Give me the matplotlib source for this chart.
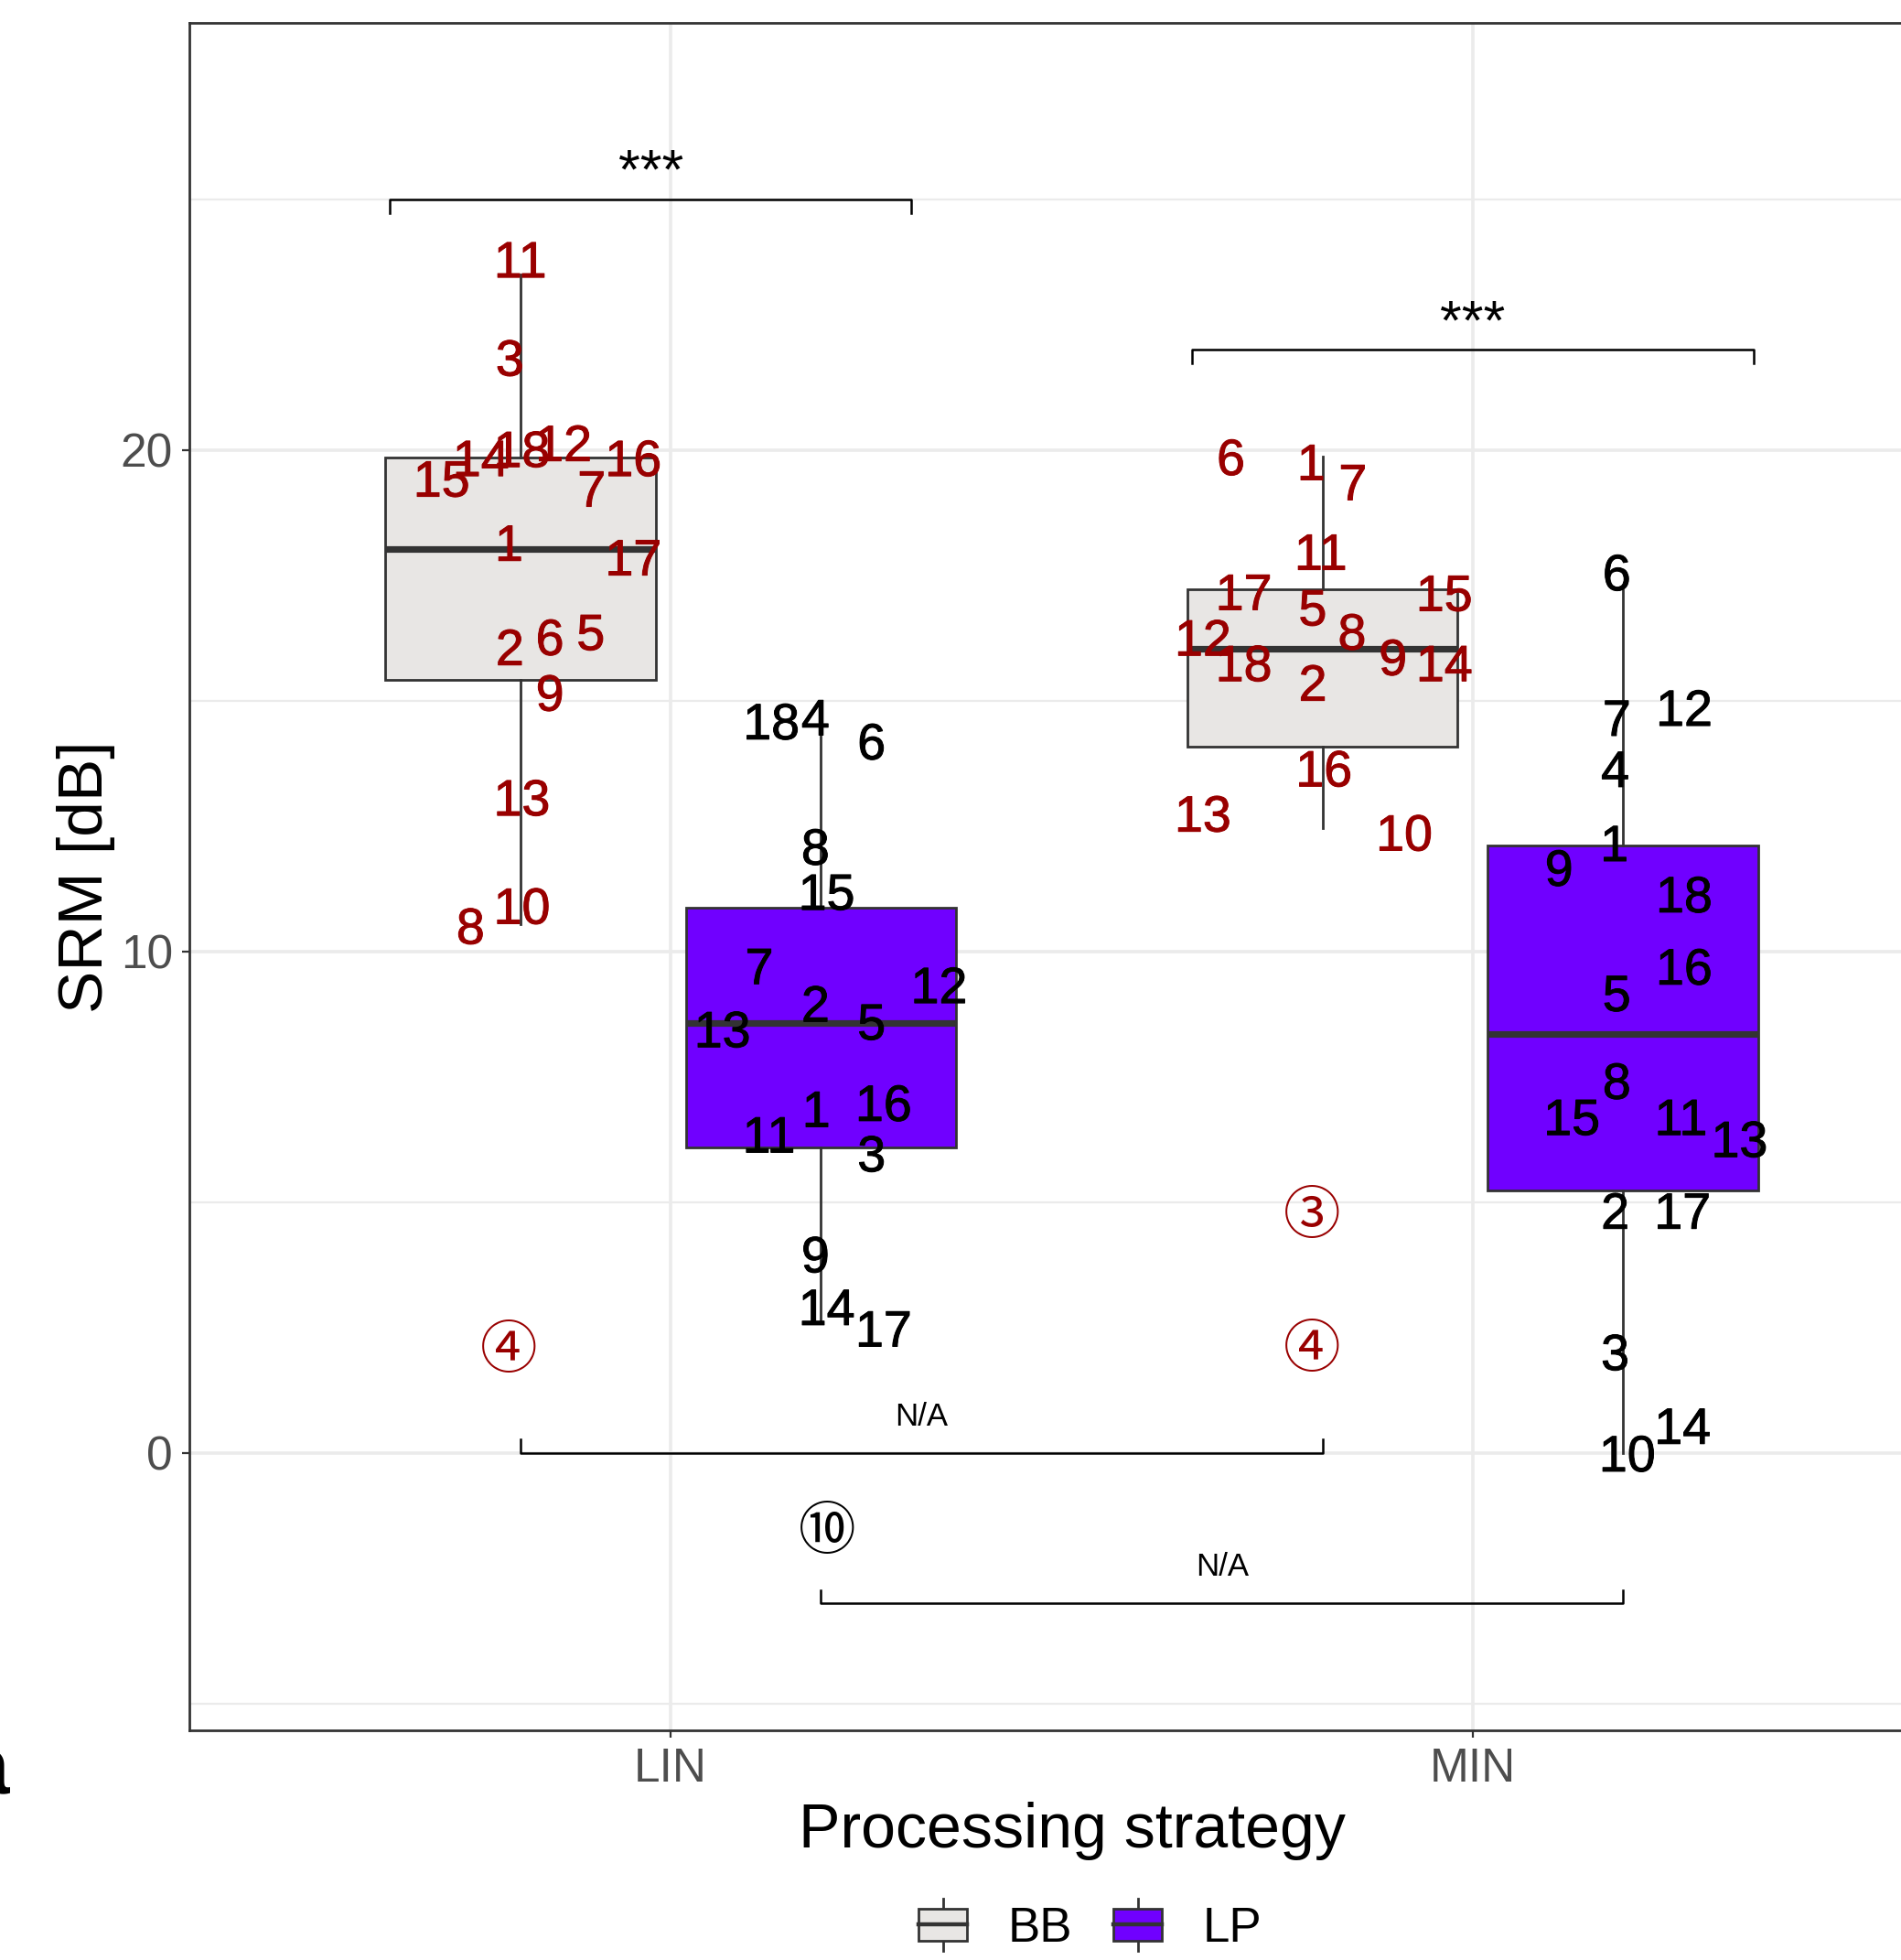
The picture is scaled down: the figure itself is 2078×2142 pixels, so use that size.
import matplotlib
matplotlib.use('Agg')
import matplotlib.pyplot as plt
from matplotlib import font_manager
from matplotlib import patheffects
from matplotlib.legend_handler import HandlerBase
from matplotlib.patches import Rectangle
from matplotlib.lines import Line2D
import numpy as np

# --- Data ---
STRATEGIES = ['LIN', 'MIN']
GROUPS = ['BB', 'LP']

# box stats: whisker low, q1, median, q3, whisker high
BOX_LIN_BB = [10.55, 15.42, 18.02, 19.86, 23.5]
BOX_LIN_LP = [2.6, 6.09, 8.57, 10.88, 14.9]
BOX_MIN_BB = [12.46, 14.09, 16.03, 17.23, 19.87]
BOX_MIN_LP = [0.0, 5.24, 8.36, 12.11, 17.2]

# participant labels, SRM values and horizontal jitter
LAB_LIN_BB = ['11', '3', '12', '18', '14', '16', '15', '7', '1', '17', '5', '6', '2', '9', '13', '10', '8', '④']
VAL_LIN_BB = [23.81, 21.85, 20.15, 20.03, 19.85, 19.85, 19.44, 19.24, 18.16, 17.87, 16.38, 16.28, 16.08, 15.17, 13.08, 10.92, 10.52, 2.12]
JIT_LIN_BB = [0.0, -0.013, 0.054, 0.002, -0.049, 0.141, -0.098, 0.089, -0.014, 0.141, 0.088, 0.037, -0.013, 0.037, 0.002, 0.002, -0.062, -0.014]

LAB_LIN_LP = ['4', '18', '6', '8', '15', '7', '12', '2', '5', '13', '16', '1', '11', '3', '9', '14', '17', '⑩']
VAL_LIN_LP = [14.68, 14.60, 14.20, 12.10, 11.20, 9.72, 9.34, 8.97, 8.61, 8.46, 6.99, 6.87, 6.36, 5.98, 3.97, 2.92, 2.49, -1.50]
JIT_LIN_LP = [-0.007, -0.062, 0.063, -0.007, 0.007, -0.077, 0.147, -0.007, 0.063, -0.123, 0.078, -0.006, -0.065, 0.063, -0.007, 0.007, 0.078, 0.007]

LAB_MIN_BB = ['6', '1', '7', '11', '17', '15', '5', '8', '12', '9', '18', '14', '2', '16', '13', '10', '③', '④']
VAL_MIN_BB = [19.87, 19.77, 19.37, 17.98, 17.18, 17.16, 16.87, 16.39, 16.27, 15.88, 15.76, 15.76, 15.37, 13.66, 12.76, 12.38, 4.80, 2.13]
JIT_MIN_BB = [-0.114, -0.014, 0.038, -0.002, -0.098, 0.152, -0.012, 0.037, -0.149, 0.088, -0.098, 0.152, -0.012, 0.002, -0.149, 0.102, -0.013, -0.013]

LAB_MIN_LP = ['6', '12', '7', '4', '1', '9', '18', '16', '5', '8', '15', '11', '13', '2', '17', '3', '14', '10']
VAL_MIN_LP = [17.57, 14.87, 14.67, 13.65, 12.17, 11.68, 11.15, 9.71, 9.18, 7.43, 6.71, 6.71, 6.27, 4.84, 4.84, 2.02, 0.55, 0.0]
JIT_MIN_LP = [-0.008, 0.076, -0.008, -0.010, -0.011, -0.080, 0.076, 0.076, -0.008, -0.008, -0.064, 0.072, 0.145, -0.010, 0.074, -0.010, 0.074, 0.005]

# significance brackets
SIG_X0 = [0.65, 1.65, 0.8125, 1.1875]
SIG_X1 = [1.30, 2.35, 1.8125, 2.1875]
SIG_Y = [25, 22, 0, -3]
SIG_TIP = [-0.27, -0.27, 0.27, 0.27]
SIG_TEXT = ['***', '***', 'N/A', 'N/A']

# --- Style ---
FILL = {'BB': '#E8E6E4', 'LP': '#7000FF'}
TEXT_COL = {'BB': '#990000', 'LP': 'black'}
EDGE = '#333333'
DODGE = 0.1875
BOX_W = 0.3375

names = {f.name for f in font_manager.fontManager.ttflist}
BASE = 'Liberation Sans' if 'Liberation Sans' in names else 'DejaVu Sans'
LABEL_FAMILY = [BASE, 'Noto Sans CJK JP', 'DejaVu Sans']
plt.rcParams['font.family'] = [BASE, 'DejaVu Sans']

boxes = {('LIN', 'BB'): BOX_LIN_BB, ('LIN', 'LP'): BOX_LIN_LP,
         ('MIN', 'BB'): BOX_MIN_BB, ('MIN', 'LP'): BOX_MIN_LP}
labels = {('LIN', 'BB'): (LAB_LIN_BB, VAL_LIN_BB, JIT_LIN_BB),
          ('LIN', 'LP'): (LAB_LIN_LP, VAL_LIN_LP, JIT_LIN_LP),
          ('MIN', 'BB'): (LAB_MIN_BB, VAL_MIN_BB, JIT_MIN_BB),
          ('MIN', 'LP'): (LAB_MIN_LP, VAL_MIN_LP, JIT_MIN_LP)}

W, H, DPI = 2078, 2142, 200
fig = plt.figure(figsize=(W / DPI, H / DPI), dpi=DPI)
ax = fig.add_axes([207 / W, 1 - 1891 / H, 1929 / W, 1866 / H])

for i, strat in enumerate(STRATEGIES):
    for j, grp in enumerate(GROUPS):
        pos = i + 1 + (-DODGE if grp == 'BB' else DODGE)
        lo, q1, med, q3, hi = boxes[(strat, grp)]
        ax.bxp([dict(whislo=lo, q1=q1, med=med, q3=q3, whishi=hi, fliers=[])],
               positions=[pos], widths=BOX_W, showcaps=False, showfliers=False,
               patch_artist=True, manage_ticks=False,
               boxprops=dict(facecolor=FILL[grp], edgecolor=EDGE, linewidth=1.0),
               whiskerprops=dict(color=EDGE, linewidth=1.0),
               medianprops=dict(color=EDGE, linewidth=2.6), zorder=2)
        labs, vals, jit = labels[(strat, grp)]
        stroke = [patheffects.withStroke(linewidth=0.35, foreground=TEXT_COL[grp])]
        for lab, v, dx in zip(labs, vals, jit):
            circled = not lab.isascii()
            ax.text(pos + dx, v, lab, ha='center', va='center_baseline',
                    fontsize=22.5 if circled else 20, color=TEXT_COL[grp],
                    family=LABEL_FAMILY, zorder=4,
                    path_effects=None if circled else stroke)

# significance brackets
for x0, x1, y, tip, txt in zip(SIG_X0, SIG_X1, SIG_Y, SIG_TIP, SIG_TEXT):
    ax.plot([x0, x0, x1, x1], [y + tip, y, y, y + tip], color='black', lw=0.9, zorder=3)
    if txt == '***':
        ax.text((x0 + x1) / 2, y + 0.22, txt, ha='center', va='baseline',
                fontsize=22, color='black', zorder=4)
    else:
        ax.text((x0 + x1) / 2, y + 0.55, txt, ha='center', va='baseline',
                fontsize=12.5, color='black', zorder=4)

# axes styling (theme_bw look)
ax.set_xlim(0.4, 2.6)
ax.set_ylim(-5.53, 28.52)
ax.set_xticks([1, 2])
ax.set_xticklabels(STRATEGIES)
ax.set_yticks([0, 10, 20])
ax.set_yticks([-5, 5, 15, 25], minor=True)
ax.grid(True, which='major', color='#EBEBEB', lw=1.3, zorder=0)
ax.grid(True, which='minor', axis='y', color='#EBEBEB', lw=0.8, zorder=0)
ax.set_axisbelow(True)
ax.tick_params(axis='both', which='major', length=3, width=0.8, color=EDGE,
               labelsize=18.5, labelcolor='#4D4D4D', pad=3.5)
ax.tick_params(axis='y', which='minor', length=0)
for sp in ax.spines.values():
    sp.set_color(EDGE)
    sp.set_linewidth(1.0)
ax.set_xlabel('Processing strategy', fontsize=24.5, labelpad=4)
ax.set_ylabel('SRM [dB]', fontsize=25, labelpad=2)


class BoxHandler(HandlerBase):
    def create_artists(self, legend, orig_handle, xdescent, ydescent, width, height, fontsize, trans):
        x0, y0 = -xdescent, -ydescent
        cx = x0 + width / 2
        whisk = Line2D([cx, cx], [y0 - 0.3 * height, y0 + 1.3 * height], color=EDGE, lw=1.0, transform=trans)
        rect = Rectangle((x0, y0), width, height, facecolor=orig_handle.get_facecolor(),
                         edgecolor=EDGE, lw=1.0, transform=trans)
        med = Line2D([x0, x0 + width], [y0 + height / 2] * 2, color=EDGE, lw=1.6, transform=trans)
        return [whisk, rect, med]


handles = [Rectangle((0, 0), 1, 1, facecolor=FILL[g]) for g in GROUPS]
fig.legend(handles, GROUPS, loc='center', bbox_to_anchor=(1192 / W, 1 - 2108 / H), ncol=2,
           frameon=False, fontsize=19, handlelength=1.0, handleheight=0.65,
           handletextpad=0.85, columnspacing=0.85,
           handler_map={Rectangle: BoxHandler()})

# panel tag, mostly cut off at the left edge
fig.text(10 / W, 1 - 1960 / H, 'a', ha='right', va='baseline', fontsize=32, fontweight='bold')

fig.savefig('out.png', dpi=DPI)
